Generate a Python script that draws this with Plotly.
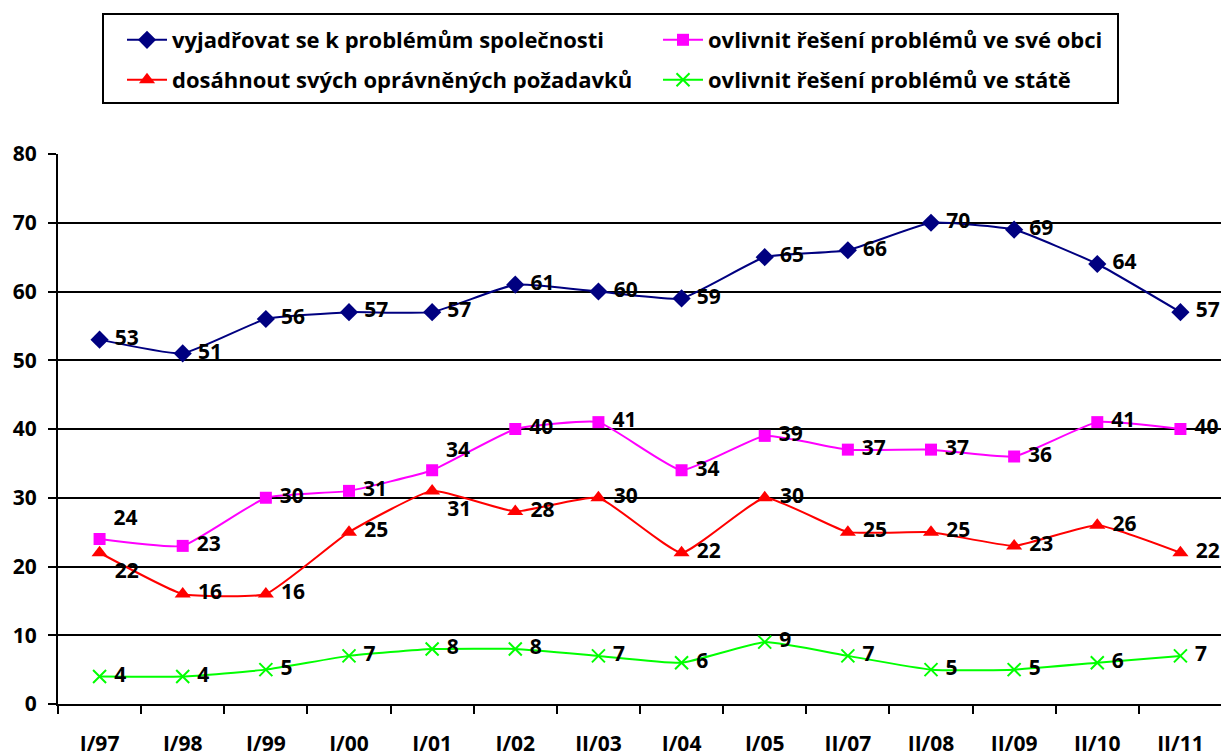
import plotly.graph_objects as go

categories = ["I/97", "I/98", "I/99", "I/00", "I/01", "I/02", "II/03", "I/04",
              "I/05", "II/07", "II/08", "II/09", "II/10", "II/11"]
vyjadrovat = [53, 51, 56, 57, 57, 61, 60, 59, 65, 66, 70, 69, 64, 57]
obec = [24, 23, 30, 31, 34, 40, 41, 34, 39, 37, 37, 36, 41, 40]
pozadavky = [22, 16, 16, 25, 31, 28, 30, 22, 30, 25, 25, 23, 26, 22]
stat = [4, 4, 5, 7, 8, 8, 7, 6, 9, 7, 5, 5, 6, 7]

names = ["vyjadřovat se k problémům společnosti",
         "ovlivnit řešení problémů ve své obci",
         "dosáhnout svých oprávněných požadavků",
         "ovlivnit řešení problémů ve státě"]

FONT = "Open Sans"
FS = 21
lab_font = dict(family=FONT, size=FS, color="black", weight="bold")

# page has an 8px body margin; compensate
OFF = 8
W, H = 1229 - OFF, 756 - OFF
ML, MT, MR, MB = 58 - OFF, 154 - OFF, 7, 52
PW = W - ML - MR
PH = H - MT - MB

pos_mid = ["middle right"] * len(categories)
pos_obec = list(pos_mid); pos_obec[0] = "top right"; pos_obec[4] = "top right"
pos_poz = list(pos_mid); pos_poz[0] = "bottom right"; pos_poz[4] = "bottom right"

fig = go.Figure()

def add(y, name, color, symbol, size, positions, legend, mline=None):
    marker = dict(symbol=symbol, size=size, color=color)
    if mline:
        marker["line"] = mline
    fig.add_trace(go.Scatter(
        x=categories, y=y, name=name, mode="lines+markers+text",
        line=dict(color=color, width=2, shape="spline", smoothing=0.4),
        marker=marker, legend=legend,
        text=[f" {v}" for v in y], textposition=positions,
        textfont=lab_font, cliponaxis=False))

add(vyjadrovat, names[0], "#000080", "diamond", 14, pos_mid, "legend")
add(obec, names[1], "#FF00FF", "square", 12, pos_obec, "legend")
add(pozadavky, names[2], "#FF0000", "triangle-up", 14, pos_poz, "legend2")
add(stat, names[3], "#00FF00", "x-thin-open", 13, pos_mid, "legend2",
    mline=dict(color="#00FF00", width=2))

leg_common = dict(orientation="h", xanchor="left", yanchor="middle",
                  xref="container", yref="container",
                  entrywidth=481, entrywidthmode="pixels",
                  borderwidth=0, bgcolor="rgba(0,0,0,0)",
                  font=dict(family=FONT, size=22, color="black", weight="bold"),
                  traceorder="normal", itemwidth=40)

fig.update_layout(
    width=W, height=H,
    margin=dict(l=ML, r=MR, t=MT, b=MB, autoexpand=False),
    paper_bgcolor="white", plot_bgcolor="white",
    font=dict(family=FONT, size=FS, color="black", weight="bold"),
    showlegend=True,
    legend=dict(x=(122 - OFF) / W, y=1 - (40 - OFF) / H, **leg_common),
    legend2=dict(x=(122 - OFF) / W, y=1 - (80 - OFF) / H, **leg_common),
)

# legend frame
def px_x(p):
    return (p - OFF - ML) / PW

def px_y(p):
    return (H - MB - (p - OFF)) / PH

fig.add_shape(type="rect", xref="paper", yref="paper",
              x0=px_x(103), x1=px_x(1118), y0=px_y(103), y1=px_y(14),
              line=dict(color="black", width=2), fillcolor="rgba(0,0,0,0)",
              layer="above")

fig.update_xaxes(
    type="category", range=[-0.5, 13.5], showgrid=False,
    showline=True, linecolor="black", linewidth=2,
    ticks="outside", tickson="boundaries", ticklen=8, tickwidth=2, tickcolor="black",
    ticklabelstandoff=20,
    tickfont=dict(family=FONT, size=FS, color="black", weight="bold"),
)
fig.update_yaxes(
    range=[0, 80], dtick=10, showgrid=True, gridcolor="black", gridwidth=2,
    showline=True, linecolor="black", linewidth=2, zeroline=False,
    ticks="outside", ticklen=8, tickwidth=2, tickcolor="black",
    ticklabelstandoff=7,
    tickfont=dict(family=FONT, size=FS, color="black", weight="bold"),
)

fig.write_html("out.html")
